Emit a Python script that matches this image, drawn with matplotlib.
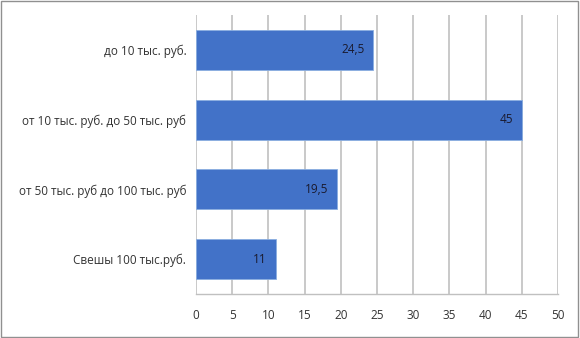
import matplotlib.pyplot as plt
from matplotlib.patches import Rectangle

categories = ['до 10 тыс. руб.', 'от 10 тыс. руб. до 50 тыс. руб',
              'от 50 тыс. руб до 100 тыс. руб', 'Свешы 100 тыс.руб.']
values = [24.5, 45, 19.5, 11]
value_labels = ['24,5', '45', '19,5', '11']
ticks = list(range(0, 55, 5))

plt.rcParams['font.family'] = ['Open Sans', 'DejaVu Sans']

fig = plt.figure(figsize=(5.8, 3.38), dpi=100)
ax = fig.add_axes([196 / 580, 1 - 294 / 338, 362 / 580, 279 / 338])

pos = list(range(len(categories)))
ax.barh(pos, values, height=0.57, color='#4272c8', edgecolor='#8aaee0',
        linewidth=0.6, zorder=3)
for p, v, lab in zip(pos, values, value_labels):
    ax.text(v - 1.2, p, lab, ha='right', va='center', fontsize=8.5,
            color='#1a1a2e', zorder=4)

ax.set_xlim(0, 50)
ax.set_ylim(3.5, -0.5)
ax.set_xticks(ticks)
ax.set_xticklabels([str(t) for t in ticks], fontsize=8.5, color='#333333')
ax.set_yticks(pos)
ax.set_yticklabels(categories, fontsize=8.5, color='#333333')
ax.tick_params(axis='x', length=0, pad=11)
ax.tick_params(axis='y', length=0, pad=7)
ax.grid(axis='x', color='#c0c0c0', linewidth=1.2, zorder=0)
for side in ['top', 'right', 'left']:
    ax.spines[side].set_visible(False)
ax.spines['bottom'].set_color('#c0c0c0')
ax.spines['bottom'].set_linewidth(1)

fig.patches.append(Rectangle((0.002, 0.003), 0.995, 0.993, transform=fig.transFigure,
                             fill=False, edgecolor='#909090', linewidth=1))

fig.savefig('out.png', dpi=100)
